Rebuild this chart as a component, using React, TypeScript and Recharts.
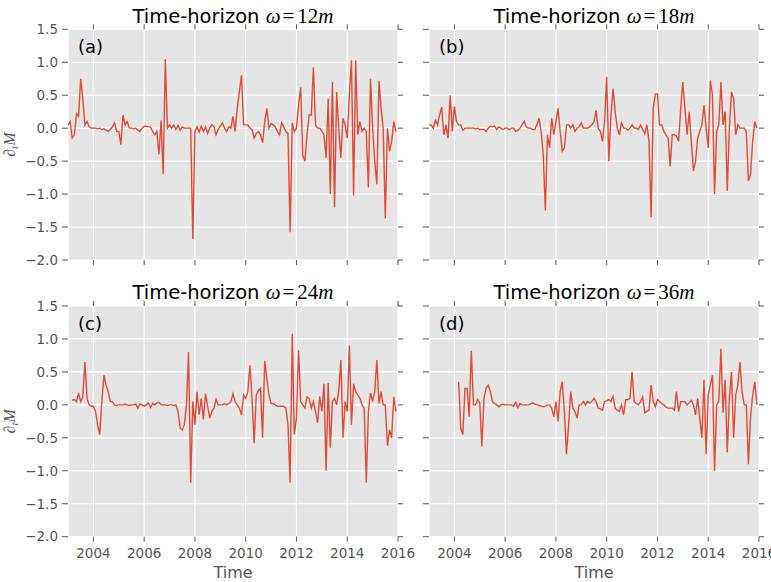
import { LineChart, Line, XAxis, YAxis, CartesianGrid } from 'recharts'

// monthly series, first value = Jan 2003, one row per year
const START_YEAR = 2003

const horizon12 = [
  0.05, 0.10, -0.15, -0.10, 0.22, 0.18, 0.75, 0.45, 0.05, 0.10, 0.02, 0.00,
  0.00, 0.00, -0.01, 0.00, -0.02, -0.01, -0.03, -0.05, -0.02, 0.02, 0.08, -0.05,
  -0.05, -0.25, 0.20, 0.05, 0.10, 0.00, 0.00, -0.01, 0.00, -0.03, -0.05, 0.00,
  0.03, 0.03, 0.02, 0.02, -0.05, -0.10, -0.05, -0.40, 0.12, -0.70, 1.05, 0.00,
  0.05, 0.00, 0.05, -0.02, 0.04, -0.03, 0.02, 0.00, 0.00, 0.00, 0.00, -1.68,
  -0.05, 0.02, -0.06, 0.03, -0.05, 0.02, -0.08, 0.00, 0.05, 0.02, -0.10, -0.02,
  0.03, 0.08, 0.00, -0.05, 0.02, 0.00, 0.18, -0.05, 0.30, 0.55, 0.80, 0.05,
  0.05, 0.05, 0.00, -0.02, -0.15, -0.08, -0.05, -0.10, -0.22, 0.10, 0.30, 0.00,
  0.07, 0.05, 0.02, -0.05, -0.10, 0.08, 0.02, -0.05, -0.08, -1.58, 0.08, -0.05,
  0.00, 0.35, 0.62, -0.42, -0.50, -0.10, 0.20, 0.20, 0.92, 0.05, 0.00, 0.00,
  -0.05, -0.10, -0.45, 0.45, -1.00, 0.70, -1.20, 0.55, 0.00, -0.45, 0.15, 0.05,
  -0.15, 0.50, 1.03, -1.02, 1.03, -0.10, 0.10, -0.05, 0.00, -0.05, -0.90, 0.75,
  0.00, -0.50, -0.85, 0.72, 0.30, 0.00, -1.37, 0.00, -0.35, -0.20, 0.10, -0.05,
]

const horizon18 = [
  0.05, 0.05, 0.00, 0.12, 0.05, 0.20, 0.32, -0.10, 0.05, -0.15, 0.50, -0.05,
  0.33, 0.10, 0.05, 0.05, -0.03, 0.00, 0.00, 0.00, 0.00, 0.00, -0.01, 0.00,
  -0.02, -0.02, -0.02, -0.05, 0.00, 0.03, 0.02, 0.03, -0.02, 0.02, 0.00, -0.02,
  0.00, 0.00, -0.02, 0.00, 0.00, -0.05, -0.03, 0.00, 0.05, 0.10, 0.02, 0.00,
  0.00, -0.02, -0.02, 0.05, 0.15, -0.05, -0.40, -1.25, -0.10, -0.30, 0.15, -0.10,
  0.10, 0.30, -0.05, -0.35, -0.30, 0.05, 0.05, 0.00, 0.05, -0.05, 0.00, 0.02,
  0.08, 0.00, 0.00, 0.00, 0.02, 0.05, 0.10, 0.27, 0.00, -0.05, -0.20, 0.10,
  0.78, -0.50, 0.20, 0.60, 0.25, 0.00, -0.10, 0.08, 0.00, 0.00, -0.03, 0.00,
  0.05, 0.00, 0.00, -0.02, 0.05, -0.02, -0.08, 0.05, -0.20, -1.35, 0.30, 0.52,
  0.52, 0.05, 0.05, -0.05, -0.10, -0.15, -0.58, -0.10, -0.10, -0.12, -0.20, 0.30,
  0.70, 0.30, -0.10, 0.25, -0.20, -0.65, -0.50, -0.15, -0.05, 0.05, 0.35, 0.00,
  -0.30, 0.72, 0.50, -1.00, -0.05, 0.05, 0.70, 0.05, 0.25, -0.95, 0.00, 0.55,
  0.45, -0.10, 0.05, 0.00, 0.00, 0.00, -0.05, -0.80, -0.70, -0.20, 0.10, 0.00,
]

const horizon24 = [
  null, null, 0.07, 0.08, 0.05, 0.18, 0.05, 0.12, 0.65, 0.10, 0.00, -0.02,
  -0.02, -0.10, -0.30, -0.45, 0.05, 0.45, 0.30, 0.20, 0.05, 0.05, 0.00, -0.01,
  0.00, 0.00, 0.00, 0.01, 0.00, -0.01, 0.00, 0.00, 0.01, -0.05, 0.01, 0.00,
  -0.02, 0.00, 0.03, -0.04, 0.02, 0.00, 0.03, 0.04, 0.00, 0.00, 0.00, -0.01,
  0.00, 0.00, -0.01, 0.00, -0.10, -0.35, -0.38, -0.30, 0.00, 0.80, -1.18, 0.05,
  -0.30, 0.20, -0.15, 0.10, -0.22, 0.17, -0.02, -0.20, -0.10, -0.05, 0.08, 0.00,
  0.00, 0.00, 0.02, 0.00, 0.02, 0.05, 0.17, 0.05, 0.00, -0.05, -0.15, 0.15,
  0.10, 0.20, 0.60, 0.10, -0.58, 0.15, 0.22, 0.25, -0.50, 0.67, 0.40, 0.15,
  0.02, 0.02, 0.00, -0.02, -0.02, -0.02, -0.02, -0.05, -0.30, -1.18, 1.08, -0.45,
  -0.20, 0.83, 0.05, 0.00, -0.05, 0.12, 0.10, -0.05, 0.05, -0.10, -0.27, 0.13,
  -0.10, 0.32, -1.00, 0.33, -0.65, 0.05, 0.10, 0.00, 0.22, 0.68, -0.50, 0.05,
  -0.10, 0.90, -0.30, 0.32, 0.20, 0.15, 0.10, 0.00, -0.05, -1.18, -0.10, 0.18,
  0.05, 0.20, 0.68, 0.02, 0.20, 0.00, 0.00, -0.62, -0.38, -0.50, 0.12, -0.10,
]

const horizon36 = [
  null, null, null, null, null, null, null, null, null, null, null, null,
  null, null, 0.35, -0.35, -0.45, 0.25, 0.25, -0.18, 0.82, 0.00, 0.00, 0.08,
  0.03, -0.63, 0.10, 0.25, 0.30, 0.20, 0.05, 0.02, 0.00, -0.03, 0.00, 0.01,
  0.00, 0.00, 0.00, 0.00, -0.02, 0.04, -0.04, 0.02, 0.00, 0.00, 0.00, 0.00,
  0.01, 0.03, 0.01, 0.00, -0.01, -0.02, -0.03, -0.02, 0.00, 0.00, -0.05, -0.18,
  0.05, -0.25, 0.20, 0.35, -0.10, -0.75, -0.30, 0.20, -0.05, -0.10, -0.20, 0.00,
  0.00, 0.05, 0.00, 0.05, 0.03, 0.05, 0.10, 0.05, -0.05, -0.06, -0.08, 0.05,
  0.06, 0.08, 0.05, 0.13, -0.05, -0.08, -0.10, 0.00, -0.15, 0.08, 0.08, 0.10,
  0.50, 0.05, 0.02, 0.00, 0.05, 0.12, -0.12, -0.10, -0.08, 0.30, 0.05, -0.03,
  0.08, 0.05, 0.02, 0.00, -0.03, -0.05, -0.05, -0.05, -0.08, 0.20, -0.10, 0.05,
  0.05, 0.05, 0.00, 0.03, 0.07, 0.00, -0.15, 0.10, -0.20, -0.50, 0.38, -0.75,
  0.15, 0.30, 0.45, -1.00, 0.00, 0.05, 0.85, -0.12, 0.38, -0.72, 0.10, 0.50,
  -0.50, 0.15, 0.30, 0.65, 0.20, 0.00, 0.00, -0.90, -0.20, 0.15, 0.35, 0.00,
]

const yearTicks = [2004, 2006, 2008, 2010, 2012, 2014, 2016]
const valueTicks = [-2, -1.5, -1, -0.5, 0, 0.5, 1, 1.5]
const horizons = ['12', '18', '24', '36']
const panelLabels = ['(a)', '(b)', '(c)', '(d)']
const series = [horizon12, horizon18, horizon24, horizon36]

const W = 771
const H = 582
const PLOT_W = 330
const PLOT_H = 230.7
const lefts = [68, 429]
const tops = [29.3, 306]

const RED = '#E24A33'
const GREY = '#555555'
const FONT = 'DejaVu Sans'

const fmt = (v: number) => v.toFixed(1).replace('-', '\u2212')
const blank = () => ''

function Panel({ idx }: { idx: number }) {
  const left = lefts[idx % 2]
  const top = tops[Math.floor(idx / 2)]
  const bottomRow = idx >= 2
  const leftCol = idx % 2 === 0
  const data = series[idx].map((v, i) => ({ t: START_YEAR + i / 12, v }))

  return (
    <div style={{ position: 'absolute', left: 0, top: 0 }}>
      <LineChart
        width={W}
        height={H}
        data={data}
        margin={{
          top: top - 10,
          left: left - 68,
          right: W - (left + PLOT_W) - 10,
          bottom: H - (top + PLOT_H) - 30,
        }}
      >
        <CartesianGrid fill="#E5E5E5" stroke="#FFFFFF" strokeWidth={1.2} />
        <XAxis
          dataKey="t"
          type="number"
          domain={[2003, 2016]}
          ticks={yearTicks}
          interval={0}
          allowDataOverflow
          height={30}
          axisLine={false}
          tickSize={5}
          tickMargin={7}
          tickLine={{ stroke: GREY }}
          tick={{ fill: GREY, fontSize: 13.5, fontFamily: FONT }}
          tickFormatter={bottomRow ? (v: number) => String(v) : blank}
        />
        <XAxis
          xAxisId="top"
          orientation="top"
          dataKey="t"
          type="number"
          domain={[2003, 2016]}
          ticks={yearTicks}
          interval={0}
          allowDataOverflow
          height={10}
          axisLine={false}
          tickSize={5}
          tickLine={{ stroke: GREY }}
          tickFormatter={blank}
        />
        <YAxis
          type="number"
          domain={[-2, 1.5]}
          ticks={valueTicks}
          interval={0}
          allowDataOverflow
          width={68}
          axisLine={false}
          tickSize={6}
          tickMargin={4}
          tickLine={{ stroke: GREY }}
          tick={{ fill: GREY, fontSize: 13.5, fontFamily: FONT }}
          tickFormatter={leftCol ? fmt : blank}
        />
        <YAxis
          yAxisId="right"
          orientation="right"
          type="number"
          domain={[-2, 1.5]}
          ticks={valueTicks}
          interval={0}
          allowDataOverflow
          width={10}
          axisLine={false}
          tickSize={5}
          tickLine={{ stroke: GREY }}
          tickFormatter={blank}
        />
        <Line
          type="linear"
          dataKey="v"
          stroke={RED}
          strokeWidth={1.4}
          dot={false}
          activeDot={false}
          isAnimationActive={false}
        />
      </LineChart>
    </div>
  )
}

function Labels() {
  return (
    <svg width={W} height={H} style={{ position: 'absolute', left: 0, top: 0 }}>
      {horizons.map((h, idx) => {
        const left = lefts[idx % 2]
        const top = tops[Math.floor(idx / 2)]
        const cx = left + PLOT_W / 2
        return (
          <g key={h}>
            <text x={cx} y={top - 6.8} textAnchor="middle" fontSize={19.5} fontFamily={FONT} fill="#000">
              Time-horizon{' '}
              <tspan fontFamily="Liberation Serif" fontStyle="italic" fontSize={21}>ω</tspan>
              <tspan fontFamily="Liberation Serif" fontSize={21} dx={2}>=</tspan>
              <tspan fontFamily="Liberation Serif" fontSize={21} dx={3}>{h}</tspan>
              <tspan fontFamily="Liberation Serif" fontStyle="italic" fontSize={21}>m</tspan>
            </text>
            <text x={left + 10} y={top + 23.5} fontSize={18} fontFamily={FONT} fill="#000">
              {panelLabels[idx]}
            </text>
          </g>
        )
      })}
      {tops.map((top) => (
        <text
          key={top}
          transform={`translate(15, ${top + PLOT_H / 2}) rotate(-90)`}
          textAnchor="middle"
          fontFamily="Liberation Serif"
          fontStyle="italic"
          fontSize={16}
          fill={GREY}
        >
          ∂<tspan fontSize={11} dy={3}>t</tspan>
          <tspan dy={-3}>M</tspan>
        </text>
      ))}
      {lefts.map((left) => (
        <text key={left} x={left + PLOT_W / 2} y={578} textAnchor="middle" fontSize={16} fontFamily={FONT} fill={GREY}>
          Time
        </text>
      ))}
    </svg>
  )
}

export default function App() {
  return (
    <div style={{ position: 'absolute', left: 0, top: 0, width: W, height: H, background: '#fff' }}>
      {series.map((_, idx) => (
        <Panel key={idx} idx={idx} />
      ))}
      <Labels />
    </div>
  )
}
